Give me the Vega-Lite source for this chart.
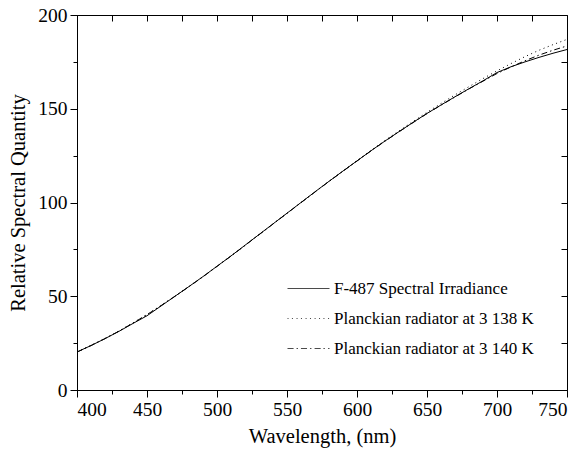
{
  "$schema": "https://vega.github.io/schema/vega-lite/v6.json",
  "width": 490,
  "height": 375,
  "autosize": {"type": "none"},
  "padding": {"left": 77, "top": 15, "right": 15, "bottom": 68},
  "config": {
    "font": "Liberation Serif",
    "view": {"stroke": "black", "strokeWidth": 1},
    "axis": {
      "grid": false,
      "domainColor": "black",
      "tickColor": "black",
      "labelColor": "black",
      "titleColor": "black",
      "labelFont": "Liberation Serif",
      "titleFont": "Liberation Serif",
      "labelFontSize": 19.5,
      "titleFontSize": 20.5,
      "titleFontWeight": "normal",
      "labelOverlap": false
    },
    "legend": {
      "labelFont": "Liberation Serif",
      "labelFontSize": 17,
      "labelColor": "black",
      "labelLimit": 400
    }
  },
  "datasets": {
    "curves": [
      {"w": 400, "v": 20.3, "s": "F-487 Spectral Irradiance"},
      {"w": 410, "v": 23.7, "s": "F-487 Spectral Irradiance"},
      {"w": 420, "v": 27.4, "s": "F-487 Spectral Irradiance"},
      {"w": 430, "v": 31.3, "s": "F-487 Spectral Irradiance"},
      {"w": 440, "v": 35.5, "s": "F-487 Spectral Irradiance"},
      {"w": 450, "v": 39.6, "s": "F-487 Spectral Irradiance"},
      {"w": 460, "v": 44.8, "s": "F-487 Spectral Irradiance"},
      {"w": 470, "v": 50.0, "s": "F-487 Spectral Irradiance"},
      {"w": 480, "v": 55.2, "s": "F-487 Spectral Irradiance"},
      {"w": 490, "v": 60.5, "s": "F-487 Spectral Irradiance"},
      {"w": 500, "v": 66.0, "s": "F-487 Spectral Irradiance"},
      {"w": 510, "v": 71.5, "s": "F-487 Spectral Irradiance"},
      {"w": 520, "v": 77.2, "s": "F-487 Spectral Irradiance"},
      {"w": 530, "v": 82.9, "s": "F-487 Spectral Irradiance"},
      {"w": 540, "v": 88.6, "s": "F-487 Spectral Irradiance"},
      {"w": 550, "v": 94.3, "s": "F-487 Spectral Irradiance"},
      {"w": 560, "v": 100.0, "s": "F-487 Spectral Irradiance"},
      {"w": 570, "v": 105.7, "s": "F-487 Spectral Irradiance"},
      {"w": 580, "v": 111.3, "s": "F-487 Spectral Irradiance"},
      {"w": 590, "v": 116.8, "s": "F-487 Spectral Irradiance"},
      {"w": 600, "v": 122.2, "s": "F-487 Spectral Irradiance"},
      {"w": 610, "v": 127.6, "s": "F-487 Spectral Irradiance"},
      {"w": 620, "v": 132.8, "s": "F-487 Spectral Irradiance"},
      {"w": 630, "v": 137.8, "s": "F-487 Spectral Irradiance"},
      {"w": 640, "v": 142.7, "s": "F-487 Spectral Irradiance"},
      {"w": 650, "v": 147.5, "s": "F-487 Spectral Irradiance"},
      {"w": 660, "v": 152.0, "s": "F-487 Spectral Irradiance"},
      {"w": 670, "v": 156.4, "s": "F-487 Spectral Irradiance"},
      {"w": 680, "v": 160.7, "s": "F-487 Spectral Irradiance"},
      {"w": 690, "v": 164.9, "s": "F-487 Spectral Irradiance"},
      {"w": 700, "v": 169.3, "s": "F-487 Spectral Irradiance"},
      {"w": 710, "v": 172.4, "s": "F-487 Spectral Irradiance"},
      {"w": 720, "v": 175.0, "s": "F-487 Spectral Irradiance"},
      {"w": 730, "v": 177.4, "s": "F-487 Spectral Irradiance"},
      {"w": 740, "v": 179.6, "s": "F-487 Spectral Irradiance"},
      {"w": 750, "v": 181.6, "s": "F-487 Spectral Irradiance"},

      {"w": 400, "v": 20.3, "s": "Planckian radiator at 3 138 K"},
      {"w": 410, "v": 23.8, "s": "Planckian radiator at 3 138 K"},
      {"w": 420, "v": 27.5, "s": "Planckian radiator at 3 138 K"},
      {"w": 430, "v": 31.5, "s": "Planckian radiator at 3 138 K"},
      {"w": 440, "v": 35.8, "s": "Planckian radiator at 3 138 K"},
      {"w": 450, "v": 40.3, "s": "Planckian radiator at 3 138 K"},
      {"w": 460, "v": 45.1, "s": "Planckian radiator at 3 138 K"},
      {"w": 470, "v": 50.1, "s": "Planckian radiator at 3 138 K"},
      {"w": 480, "v": 55.2, "s": "Planckian radiator at 3 138 K"},
      {"w": 490, "v": 60.5, "s": "Planckian radiator at 3 138 K"},
      {"w": 500, "v": 66.0, "s": "Planckian radiator at 3 138 K"},
      {"w": 510, "v": 71.5, "s": "Planckian radiator at 3 138 K"},
      {"w": 520, "v": 77.2, "s": "Planckian radiator at 3 138 K"},
      {"w": 530, "v": 82.9, "s": "Planckian radiator at 3 138 K"},
      {"w": 540, "v": 88.6, "s": "Planckian radiator at 3 138 K"},
      {"w": 550, "v": 94.3, "s": "Planckian radiator at 3 138 K"},
      {"w": 560, "v": 100.0, "s": "Planckian radiator at 3 138 K"},
      {"w": 570, "v": 105.7, "s": "Planckian radiator at 3 138 K"},
      {"w": 580, "v": 111.3, "s": "Planckian radiator at 3 138 K"},
      {"w": 590, "v": 116.8, "s": "Planckian radiator at 3 138 K"},
      {"w": 600, "v": 122.4, "s": "Planckian radiator at 3 138 K"},
      {"w": 610, "v": 127.8, "s": "Planckian radiator at 3 138 K"},
      {"w": 620, "v": 133.1, "s": "Planckian radiator at 3 138 K"},
      {"w": 630, "v": 138.2, "s": "Planckian radiator at 3 138 K"},
      {"w": 640, "v": 143.2, "s": "Planckian radiator at 3 138 K"},
      {"w": 650, "v": 148.1, "s": "Planckian radiator at 3 138 K"},
      {"w": 660, "v": 152.8, "s": "Planckian radiator at 3 138 K"},
      {"w": 670, "v": 157.4, "s": "Planckian radiator at 3 138 K"},
      {"w": 680, "v": 161.8, "s": "Planckian radiator at 3 138 K"},
      {"w": 690, "v": 166.1, "s": "Planckian radiator at 3 138 K"},
      {"w": 700, "v": 170.2, "s": "Planckian radiator at 3 138 K"},
      {"w": 710, "v": 174.1, "s": "Planckian radiator at 3 138 K"},
      {"w": 720, "v": 177.8, "s": "Planckian radiator at 3 138 K"},
      {"w": 730, "v": 181.2, "s": "Planckian radiator at 3 138 K"},
      {"w": 740, "v": 184.2, "s": "Planckian radiator at 3 138 K"},
      {"w": 750, "v": 187.0, "s": "Planckian radiator at 3 138 K"},

      {"w": 400, "v": 20.2, "s": "Planckian radiator at 3 140 K"},
      {"w": 410, "v": 23.7, "s": "Planckian radiator at 3 140 K"},
      {"w": 420, "v": 27.4, "s": "Planckian radiator at 3 140 K"},
      {"w": 430, "v": 31.4, "s": "Planckian radiator at 3 140 K"},
      {"w": 440, "v": 35.7, "s": "Planckian radiator at 3 140 K"},
      {"w": 450, "v": 40.2, "s": "Planckian radiator at 3 140 K"},
      {"w": 460, "v": 45.0, "s": "Planckian radiator at 3 140 K"},
      {"w": 470, "v": 50.0, "s": "Planckian radiator at 3 140 K"},
      {"w": 480, "v": 55.1, "s": "Planckian radiator at 3 140 K"},
      {"w": 490, "v": 60.4, "s": "Planckian radiator at 3 140 K"},
      {"w": 500, "v": 65.9, "s": "Planckian radiator at 3 140 K"},
      {"w": 510, "v": 71.4, "s": "Planckian radiator at 3 140 K"},
      {"w": 520, "v": 77.1, "s": "Planckian radiator at 3 140 K"},
      {"w": 530, "v": 82.8, "s": "Planckian radiator at 3 140 K"},
      {"w": 540, "v": 88.5, "s": "Planckian radiator at 3 140 K"},
      {"w": 550, "v": 94.2, "s": "Planckian radiator at 3 140 K"},
      {"w": 560, "v": 99.9, "s": "Planckian radiator at 3 140 K"},
      {"w": 570, "v": 105.6, "s": "Planckian radiator at 3 140 K"},
      {"w": 580, "v": 111.2, "s": "Planckian radiator at 3 140 K"},
      {"w": 590, "v": 116.7, "s": "Planckian radiator at 3 140 K"},
      {"w": 600, "v": 122.1, "s": "Planckian radiator at 3 140 K"},
      {"w": 610, "v": 127.5, "s": "Planckian radiator at 3 140 K"},
      {"w": 620, "v": 132.7, "s": "Planckian radiator at 3 140 K"},
      {"w": 630, "v": 137.7, "s": "Planckian radiator at 3 140 K"},
      {"w": 640, "v": 142.6, "s": "Planckian radiator at 3 140 K"},
      {"w": 650, "v": 147.4, "s": "Planckian radiator at 3 140 K"},
      {"w": 660, "v": 151.9, "s": "Planckian radiator at 3 140 K"},
      {"w": 670, "v": 156.3, "s": "Planckian radiator at 3 140 K"},
      {"w": 680, "v": 160.6, "s": "Planckian radiator at 3 140 K"},
      {"w": 690, "v": 164.7, "s": "Planckian radiator at 3 140 K"},
      {"w": 700, "v": 168.8, "s": "Planckian radiator at 3 140 K"},
      {"w": 710, "v": 172.3, "s": "Planckian radiator at 3 140 K"},
      {"w": 720, "v": 175.6, "s": "Planckian radiator at 3 140 K"},
      {"w": 730, "v": 178.6, "s": "Planckian radiator at 3 140 K"},
      {"w": 740, "v": 181.2, "s": "Planckian radiator at 3 140 K"},
      {"w": 750, "v": 183.5, "s": "Planckian radiator at 3 140 K"}
    ]
  },
  "data": {"name": "curves"},
  "layer": [
    {
      "transform": [{"filter": "datum.s === 'F-487 Spectral Irradiance'"}],
      "mark": {"type": "line", "color": "black", "strokeWidth": 1},
      "encoding": {
        "x": {
          "field": "w",
          "type": "quantitative",
          "scale": {"domain": [400, 750], "nice": false, "zero": false},
          "axis": {
            "orient": "bottom",
            "title": "Wavelength, (nm)",
            "values": [400, 450, 500, 550, 600, 650, 700, 750],
            "tickSize": 7,
            "labelPadding": 3,
            "titlePadding": 8
          }
        },
        "y": {
          "field": "v",
          "type": "quantitative",
          "scale": {"domain": [0, 200], "nice": false},
          "axis": {
            "orient": "left",
            "title": "Relative Spectral Quantity",
            "values": [0, 50, 100, 150, 200],
            "tickSize": 7,
            "labelPadding": 3,
            "titlePadding": 9
          }
        }
      }
    },
    {
      "transform": [{"filter": "datum.s === 'Planckian radiator at 3 138 K'"}],
      "mark": {"type": "line", "color": "black", "strokeWidth": 1, "strokeDash": [1, 3.5]},
      "encoding": {
        "x": {"field": "w", "type": "quantitative", "axis": null},
        "y": {"field": "v", "type": "quantitative", "axis": null}
      }
    },
    {
      "transform": [{"filter": "datum.s === 'Planckian radiator at 3 140 K'"}],
      "mark": {"type": "line", "color": "black", "strokeWidth": 1, "strokeDash": [6, 3, 1.5, 3]},
      "encoding": {
        "x": {"field": "w", "type": "quantitative", "axis": null},
        "y": {"field": "v", "type": "quantitative", "axis": null}
      }
    },
    {
      "transform": [{"filter": "datum.w < 0"}],
      "mark": {"type": "point", "color": "black", "filled": false, "strokeWidth": 1},
      "encoding": {
        "shape": {
          "field": "s",
          "type": "nominal",
          "scale": {
            "domain": ["F-487 Spectral Irradiance", "Planckian radiator at 3 138 K", "Planckian radiator at 3 140 K"],
            "range": [
              "M-1,0H1",
              "M-1,0h0.05M-0.79,0h0.05M-0.57,0h0.05M-0.36,0h0.05M-0.14,0h0.05M0.07,0h0.05M0.29,0h0.05M0.5,0h0.05M0.71,0h0.05M0.93,0h0.05",
              "M-1,0h0.29M-0.57,0h0.07M-0.36,0h0.29M0.07,0h0.07M0.29,0h0.29M0.71,0h0.07M0.93,0h0.07"
            ]
          },
          "legend": {
            "orient": "bottom-right",
            "offset": 33,
            "title": null,
            "symbolSize": 1764,
            "symbolStrokeWidth": 1,
            "symbolStrokeColor": "black",
            "symbolFillColor": "transparent",
            "rowPadding": 0
          }
        }
      }
    },
    {
      "mark": {"type": "point", "opacity": 0},
      "encoding": {
        "x": {
          "field": "w",
          "type": "quantitative",
          "axis": {
            "orient": "top",
            "title": null,
            "labels": false,
            "domain": false,
            "offset": -6,
            "values": [400, 425, 450, 475, 500, 525, 550, 575, 600, 625, 650, 675, 700, 725, 750],
            "tickSize": 6
          }
        },
        "y": {
          "field": "v",
          "type": "quantitative",
          "axis": {
            "orient": "right",
            "title": null,
            "labels": false,
            "domain": false,
            "offset": -6,
            "values": [0, 25, 50, 75, 100, 125, 150, 175, 200],
            "tickSize": 6
          }
        }
      }
    },
    {
      "mark": {"type": "point", "opacity": 0},
      "encoding": {
        "x": {
          "field": "w",
          "type": "quantitative",
          "axis": {
            "orient": "bottom",
            "title": null,
            "labels": false,
            "domain": false,
            "values": [425, 475, 525, 575, 625, 675, 725],
            "tickSize": 4
          }
        },
        "y": {
          "field": "v",
          "type": "quantitative",
          "axis": {
            "orient": "left",
            "title": null,
            "labels": false,
            "domain": false,
            "values": [25, 75, 125, 175],
            "tickSize": 4
          }
        }
      }
    }
  ],
  "resolve": {"axis": {"x": "independent", "y": "independent"}}
}
